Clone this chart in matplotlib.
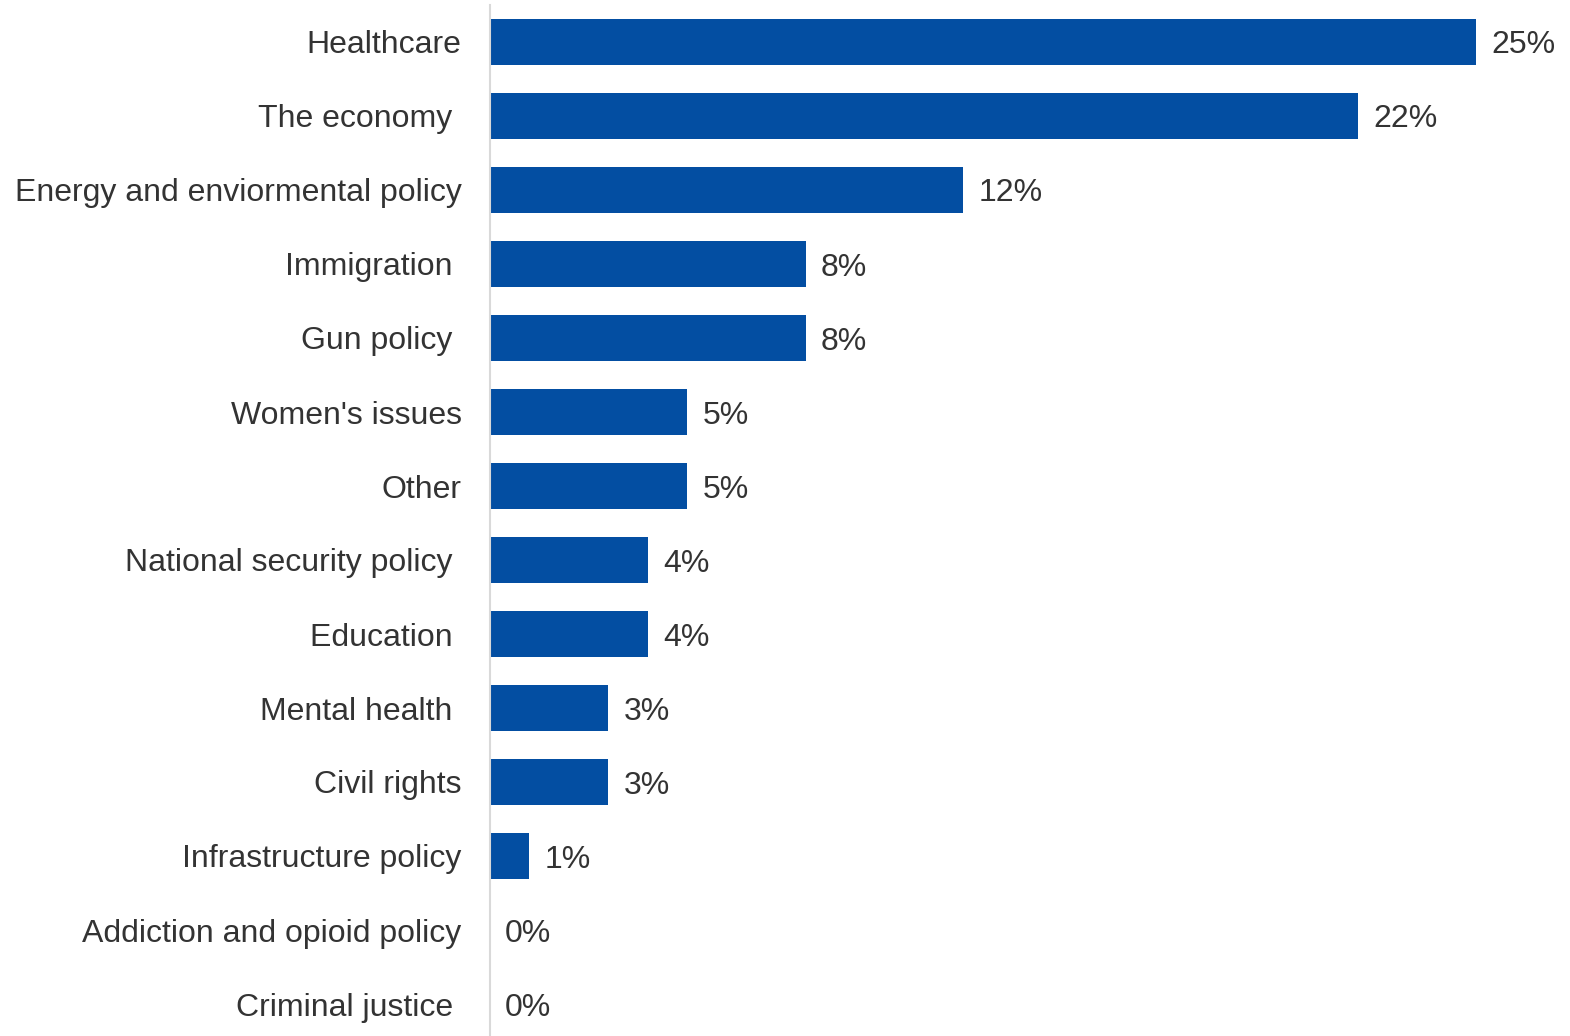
import matplotlib
matplotlib.use("Agg")
import matplotlib.pyplot as plt

categories = ["Healthcare", "The economy ", "Energy and enviormental policy", "Immigration ",
              "Gun policy ", "Women's issues", "Other", "National security policy ",
              "Education ", "Mental health ", "Civil rights", "Infrastructure policy",
              "Addiction and opioid policy", "Criminal justice "]
values = [25, 22, 12, 8, 8, 5, 5, 4, 4, 3, 3, 1, 0, 0]
value_labels = [f"{v}%" for v in values]

plt.rcParams['font.family'] = ['Liberation Sans', 'DejaVu Sans']
W, H = 1570, 1036
fig = plt.figure(figsize=(W / 100, H / 100), dpi=100)
x0 = 490
scale = 39.45
left = x0 / W
top = 5 / H
ax = fig.add_axes([left, 0, 1 - left, 1 - top])
ax.set_xlim(0, (W - x0) / scale)
ax.set_ylim(1031 / 74 - 0.5, -0.5)

y = list(range(len(categories)))
ax.barh(y, values, height=46 / 74, color="#034EA2")
txtcol = "#333333"
for yi, v, lab in zip(y, values, value_labels):
    ax.text(v + 15 / scale, yi, lab, va="center_baseline", ha="left", fontsize=23, color=txtcol)

ax.set_yticks(y)
ax.set_yticklabels(categories, fontsize=23, color=txtcol)
ax.tick_params(axis="y", length=0, pad=20.5)
ax.set_xticks([])
for s in ["top", "right", "bottom"]:
    ax.spines[s].set_visible(False)
ax.spines["left"].set_color("#D9D9D9")
ax.spines["left"].set_linewidth(1.5)

fig.savefig("out.png", dpi=100)
